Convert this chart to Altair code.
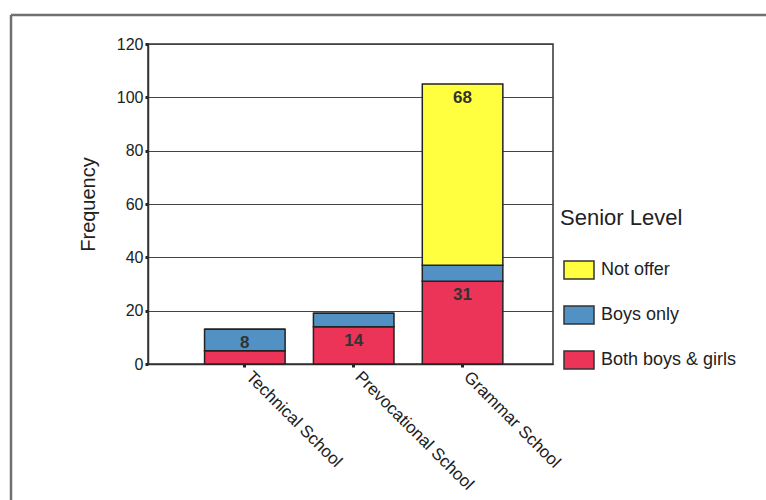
import altair as alt
import pandas as pd

schools = ["Technical School", "Prevocational School", "Grammar School"]
both_boys_girls = [5, 14, 31]
boys_only = [8, 5, 6]
not_offer = [0, 0, 68]

levels = ["Not offer", "Boys only", "Both boys & girls"]
level_colors = ["#FFFF40", "#5191C3", "#EC3358"]
y_ticks = [0, 20, 40, 60, 80, 100, 120]

series = [("Both boys & girls", both_boys_girls), ("Boys only", boys_only), ("Not offer", not_offer)]
rows = []
for i, s in enumerate(schools):
    for k, (lvl, vals) in enumerate(series):
        rows.append({"school": s, "level": lvl, "value": vals[i], "ord": k})
df = pd.DataFrame(rows)

FONT = "Liberation Sans"

base = alt.Chart(df).transform_stack(
    stack="value", groupby=["school"], as_=["y0", "y1"], sort=[alt.SortField("ord")]
)

x_scale = alt.Scale(paddingInner=0.26, paddingOuter=0.49, align=0.53)

x_enc = alt.X(
    "school:N",
    sort=schools,
    scale=x_scale,
    axis=alt.Axis(
        title=None, labelAngle=45, labelAlign="left", labelBaseline="middle",
        labelFontSize=17, labelColor="#222", labelFont=FONT, labelPadding=7,
        labelOffset=4,
        tickSize=3, tickWidth=3, tickColor="#222", domainColor="#333", domainWidth=1.5,
    ),
)

bars = base.mark_bar(stroke="#222", strokeWidth=1.5).encode(
    x=x_enc,
    y=alt.Y(
        "y0:Q",
        scale=alt.Scale(domain=[0, 120], nice=False),
        axis=alt.Axis(
            title="Frequency", values=y_ticks, grid=True, gridColor="#444", gridWidth=1,
            labelFontSize=16, labelColor="#222", labelFont=FONT, labelPadding=2,
            tickSize=3, tickWidth=3, tickColor="#222", domainColor="#333", domainWidth=1.5,
            titleFontSize=20, titleFontWeight="normal", titleColor="#222", titleFont=FONT,
            titlePadding=18,
        ),
    ),
    y2="y1:Q",
    color=alt.Color(
        "level:N",
        scale=alt.Scale(domain=levels, range=level_colors),
        legend=alt.Legend(
            title="Senior Level", orient="none", legendX=412, legendY=164,
            titleFontSize=22, titleFontWeight="normal", titleColor="#222", titleFont=FONT,
            titlePadding=24, labelFontSize=18, labelColor="#222", labelFont=FONT,
            labelOffset=6, symbolType="M-1,-0.6L1,-0.6L1,0.6L-1,0.6Z", symbolSize=900,
            symbolStrokeColor="#333", symbolStrokeWidth=1.5, symbolOpacity=1,
            symbolOffset=3, rowPadding=17, padding=0,
        ),
    ),
)

labels = base.transform_filter("datum.value >= 8").mark_text(
    dy=14, fontSize=17, fontWeight="bold", color="#333", font=FONT, baseline="middle"
).encode(
    x=alt.X("school:N", sort=schools, scale=x_scale),
    y="y1:Q",
    text="value:Q",
)

frame_data = alt.Data(values=[{"k": 1}])
left_border = alt.Chart(frame_data).mark_rule(color="#707070", strokeWidth=2.5).encode(
    x=alt.value(-137), y=alt.value(-29), y2=alt.value(500)
)
top_border = alt.Chart(frame_data).mark_rule(color="#707070", strokeWidth=2.5).encode(
    x=alt.value(-137), x2=alt.value(700), y=alt.value(-29)
)

chart = alt.layer(bars, labels, left_border, top_border).properties(
    width=405, height=320,
    autosize=alt.AutoSizeParams(type="none"),
    padding={"left": 148, "top": 44, "right": 213, "bottom": 136},
    background="white",
).configure_view(stroke="#333", strokeWidth=1.5)

chart.save("out.html", embed_options={"renderer": "svg", "actions": False})
